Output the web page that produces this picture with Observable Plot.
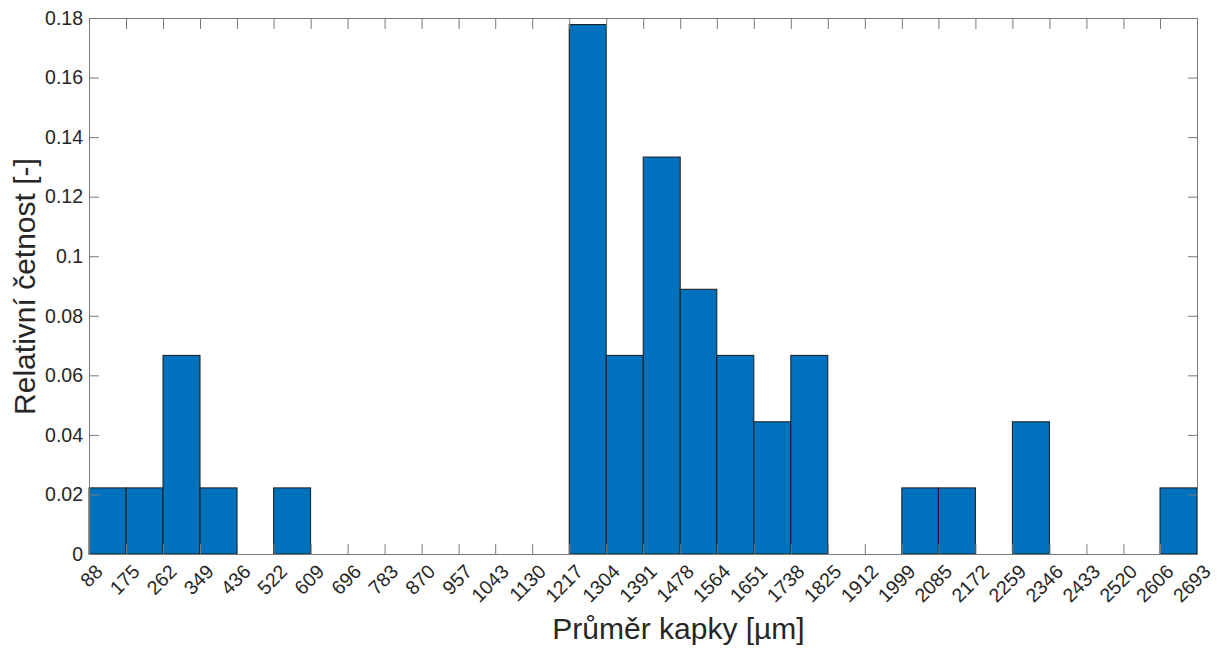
<!DOCTYPE html>
<html>
<head>
<meta charset="utf-8">
<script src="https://cdn.jsdelivr.net/npm/d3@7"></script>
<script src="https://cdn.jsdelivr.net/npm/@observablehq/plot@0.6"></script>
<style>
  html, body { margin: 0; padding: 0; background: #fff; }
  #chart { width: 1217px; height: 649px; }
</style>
</head>
<body>
<div id="chart"></div>
<script>
// Bin edges (also the x tick labels) in µm
const edges = [88, 175, 262, 349, 436, 522, 609, 696, 783, 870, 957, 1043, 1130, 1217, 1304,
  1391, 1478, 1564, 1651, 1738, 1825, 1912, 1999, 2085, 2172, 2259, 2346, 2433, 2520, 2606, 2693];
// Relative frequency of each bin
const freq = [0.0222, 0.0222, 0.0667, 0.0222, 0, 0.0222, 0, 0, 0, 0, 0, 0, 0, 0.1778, 0.0667,
  0.1333, 0.0889, 0.0667, 0.0444, 0.0667, 0, 0, 0.0222, 0.0222, 0, 0.0444, 0, 0, 0, 0.0222];
const yTicks = [0, 0.02, 0.04, 0.06, 0.08, 0.1, 0.12, 0.14, 0.16, 0.18];
const xTitle = "Průměr kapky [µm]";
const yTitle = "Relativní četnost [-]";

const bins = freq.map((v, i) => ({x1: edges[i], x2: edges[i + 1], y: v})).filter(d => d.y > 0);

const axisColor = "#7a7a7a";
const textColor = "#262626";

const chart = Plot.plot({
  width: 1217,
  height: 649,
  marginLeft: 89,
  marginRight: 20,
  marginTop: 18,
  marginBottom: 95,
  style: {fontFamily: "'Liberation Sans', Arial, sans-serif", fontSize: "19.5px", color: textColor, background: "#fff"},
  x: {domain: [edges[0], edges[edges.length - 1]], axis: null},
  y: {domain: [0, 0.18], axis: null},
  marks: [
    Plot.rectY(bins, {x1: "x1", x2: "x2", y: "y", fill: "#0072BD", stroke: "#1a1a1a", strokeWidth: 1, inset: 0}),
    Plot.frame({stroke: axisColor, strokeWidth: 1}),
    // inward ticks
    Plot.axisX({anchor: "bottom", ticks: edges, tickSize: 10, dy: -10, fill: "none", stroke: axisColor, label: null}),
    Plot.axisX({anchor: "top", ticks: edges, tickSize: 10, dy: 10, fill: "none", stroke: axisColor, label: null}),
    Plot.axisY({anchor: "left", ticks: yTicks, tickSize: 10, dx: 10, fill: "none", stroke: axisColor, label: null}),
    Plot.axisY({anchor: "right", ticks: yTicks, tickSize: 10, dx: -10, fill: "none", stroke: axisColor, label: null}),
    // tick labels
    Plot.axisX({anchor: "bottom", ticks: edges, tickSize: 0, tickPadding: 6, dx: 10, dy: 8, tickRotate: -45, tickFormat: d => String(d), fill: textColor, fontSize: 19.5, label: null}),
    Plot.axisY({anchor: "left", ticks: yTicks, tickSize: 0, tickPadding: 6.5, tickFormat: d => String(d), fill: textColor, fontSize: 19.5, label: null}),
    // axis titles
    Plot.text([xTitle], {frameAnchor: "bottom", text: d => d, dx: 35, dy: 84, fontSize: 30, fill: textColor, textAnchor: "middle"}),
    Plot.text([yTitle], {frameAnchor: "left", text: d => d, dx: -64, rotate: -90, fontSize: 30, fill: textColor, textAnchor: "middle", lineAnchor: "middle"})
  ]
});
document.getElementById("chart").appendChild(chart);
</script>
</body>
</html>
